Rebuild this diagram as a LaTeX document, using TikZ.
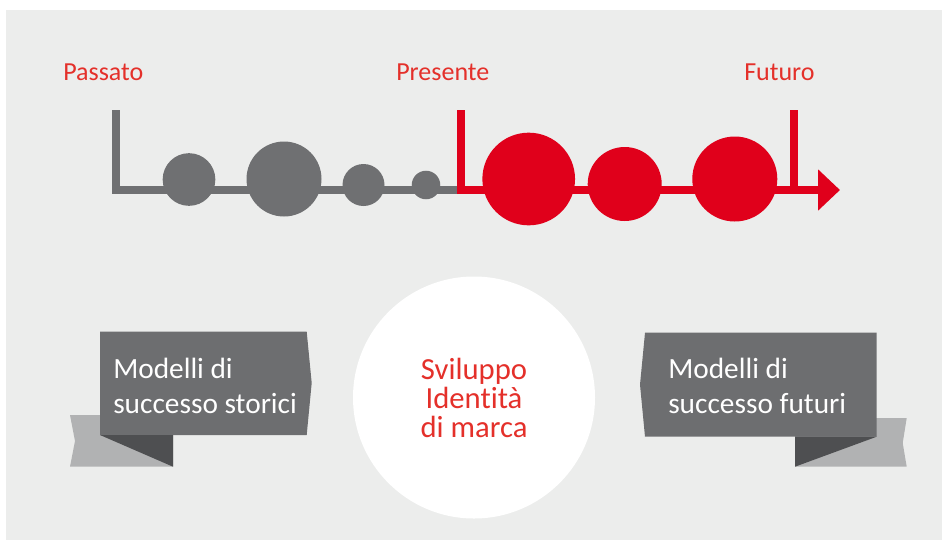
\documentclass[tikz,border=0pt]{standalone}
\usepackage{fontspec}
\setmainfont{Carlito}[Ligatures=NoCommon]
\usetikzlibrary{arrows.meta}
\definecolor{panel}{HTML}{ECEDEC}
\definecolor{tlgrey}{HTML}{6F7072}
\definecolor{brandred}{HTML}{E0001B}
\definecolor{textred}{HTML}{E4302A}
\definecolor{bandark}{HTML}{6D6E70}
\definecolor{bantail}{HTML}{B1B2B3}
\definecolor{banfold}{HTML}{4E4F51}
\tikzset{lab/.style={font=\fontsize{19.5}{19.5}\selectfont, text=textred, inner sep=0pt}}
\tikzset{ban/.style={font=\fontsize{22}{26.25}\selectfont, text=white, align=left, inner sep=0pt}}
\tikzset{dotg/.style={circle, fill=tlgrey, inner sep=0pt}}
\tikzset{dotr/.style={circle, fill=brandred, inner sep=0pt}}
\tikzset{tl/.style={line width=6pt}}

\begin{document}
\begin{tikzpicture}[x=0.75pt,y=-0.75pt]
          \useasboundingbox (0,0) rectangle (942,540);
          \fill[panel] (6,10) rectangle (942,540);
          % timeline
          \coordinate (P0) at (115.5,110);
          \coordinate (P1) at (115.5,190);
          \coordinate (N0) at (461,110);
          \coordinate (N1) at (461,190);
          \coordinate (F0) at (794,110);
          \coordinate (F1) at (794,190);
          \coordinate (F2) at (840,190);
          \draw[tl, tlgrey] (P0) -- (P1) -- (N1);
          \draw[tl, brandred, -{Triangle[length=16.5pt,width=30pt]}] (N0) -- (N1) -- (F2);
          \draw[tl, brandred] (F0) -- (F1);
          \node[dotg, minimum size=39.5pt] (G1) at (189,179.5) {};
          \node[dotg, minimum size=56.25pt] (G2) at (284,179) {};
          \node[dotg, minimum size=31.5pt] (G3) at (363.5,185) {};
          \node[dotg, minimum size=21.4pt] (G4) at (426,185) {};
          \node[dotr, minimum size=69.5pt] (R1) at (528.7,179) {};
          \node[dotr, minimum size=55.5pt] (R2) at (624.7,184) {};
          \node[dotr, minimum size=63.75pt] (R3) at (734.8,179) {};
          \node[lab, anchor=base west] (Past) at (63,80) {Passato};
          \node[lab, anchor=base west] (Present) at (396,80) {Presente};
          \node[lab, anchor=base west] (Future) at (744,80) {Futuro};
          % banners
          \fill[bantail] (70,415) -- (173,415) -- (173,466.7) -- (70,466.7) -- (75,441) -- cycle;
          \fill[bandark] (100,331.7) -- (306.7,331.7) -- (311.7,383) -- (306.7,435) -- (100,435) -- cycle;
          \fill[banfold] (100,435) -- (173,435) -- (173,466.7) -- cycle;
          \node[ban, anchor=west] (Hist) at (113,385.5) {Modelli di\\successo storici};
          \fill[bantail] (795,418) -- (906.7,418) -- (902.7,443) -- (906.7,466.7) -- (795,466.7) -- cycle;
          \fill[bandark] (645,332.7) -- (876.7,332.7) -- (876.7,436.7) -- (645,436.7) -- (640,384.7) -- cycle;
          \fill[banfold] (795,436.7) -- (876.7,436.7) -- (795,466.7) -- cycle;
          \node[ban, anchor=west] (Fut) at (668,385.5) {Modelli di\\successo futuri};
          % centre
          \node[circle, fill=white, inner sep=0pt, minimum size=181.5pt] (Core) at (474,397.5) {};
          \node[align=center, text=textred, font=\fontsize{23}{21.75}\selectfont, inner sep=0pt] (CoreText) at (Core) {Sviluppo\\Identità\\di marca};
        \end{tikzpicture}
\end{document}
